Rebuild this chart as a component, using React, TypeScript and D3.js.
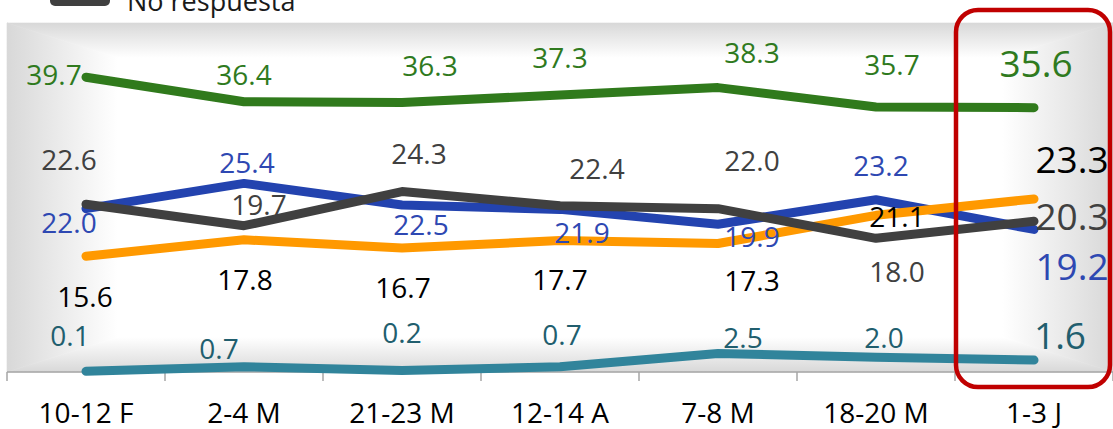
import React from 'react';
import * as d3 from 'd3';

const categories = ['10-12 F', '2-4 M', '21-23 M', '12-14 A', '7-8 M', '18-20 M', '1-3 J'];
const serieVerde = [39.7, 36.4, 36.3, 37.3, 38.3, 35.7, 35.6];
const serieAzul = [22.0, 25.4, 22.5, 21.9, 19.9, 23.2, 19.2];
const serieNaranja = [15.6, 17.8, 16.7, 17.7, 17.3, 21.1, 23.3];
const serieTurquesa = [0.1, 0.7, 0.2, 0.7, 2.5, 2.0, 1.6];
const noRespuesta = [22.6, 19.7, 24.3, 22.4, 22.0, 18.0, 20.3];
const legendLabel = 'No respuesta';

// label offsets (px) relative to each data point
const offVerde = [[-32, -2], [0, -27], [28, -37], [0, -37], [34, -35], [16, -42], [2, -44]];
const offAzul = [[-17, 14], [3, -20], [19, 20], [22, 24], [34, 13], [5, -34], [38, 37]];
const offNaranja = [[-1, 41], [1, 40], [1, 40], [0, 39], [34, 37], [21, 2], [38, -39]];
const offTurquesa = [[-16, -35], [-25, -18], [0, -38], [2, -32], [25, -16], [8, -19], [26, -24]];
const offNoResp = [[-17, -44], [15, -21], [17, -38], [37, -37], [34, -48], [21, 34], [38, -5]];

const W = 1113;
const H = 429;
const X0 = 7, X1 = 1113, Y0 = 23, Y1 = 372;
const FONT = '"Open Sans", "Noto Sans", sans-serif';

const series = [
  { key: 'verde', values: serieVerde, off: offVerde, line: '#307A1C', label: '#2F7A1E' },
  { key: 'azul', values: serieAzul, off: offAzul, line: '#2343AF', label: '#2E48B2' },
  { key: 'naranja', values: serieNaranja, off: offNaranja, line: '#FF9900', label: '#000000' },
  { key: 'turquesa', values: serieTurquesa, off: offTurquesa, line: '#31849B', label: '#215E6E' },
  { key: 'noresp', values: noRespuesta, off: offNoResp, line: '#404040', label: '#404040' },
];

export default function App() {
  const x = d3.scaleBand<string>().domain(categories).range([X0, X1]).padding(0);
  const cx = (c: string) => (x(c) as number) + x.bandwidth() / 2;
  const y = d3.scaleLinear().domain([0, 47]).range([Y1, Y0]);
  const fmt = d3.format('.1f');
  const line = d3
    .line<number>()
    .x((_, i) => cx(categories[i]))
    .y((v) => y(v));

  const mx = (X0 + X1) / 2;
  const my = (Y0 + Y1) / 2;
  const stops = (
    <>
      <stop offset="0" stopColor="#D8D8D8" />
      <stop offset="0.07" stopColor="#E6E6E6" />
      <stop offset="0.2" stopColor="#FFFFFF" />
      <stop offset="1" stopColor="#FFFFFF" />
    </>
  );
  const ticks = d3.range(categories.length + 1).map((i) => X0 + i * x.bandwidth());
  const lastIdx = categories.length - 1;

  return (
    <svg width={W} height={H} style={{ position: 'absolute', left: 0, top: 0 }} fontFamily={FONT}>
      <defs>
        <linearGradient id="gT" gradientUnits="userSpaceOnUse" x1={0} y1={Y0} x2={0} y2={my}>{stops}</linearGradient>
        <linearGradient id="gB" gradientUnits="userSpaceOnUse" x1={0} y1={Y1} x2={0} y2={my}>{stops}</linearGradient>
        <linearGradient id="gL" gradientUnits="userSpaceOnUse" x1={X0} y1={0} x2={mx} y2={0}>{stops}</linearGradient>
        <linearGradient id="gR" gradientUnits="userSpaceOnUse" x1={X1} y1={0} x2={mx} y2={0}>{stops}</linearGradient>
      </defs>
      <rect x={0} y={0} width={W} height={H} fill="#FFFFFF" />
      {/* plot area with path-style gradient */}
      <polygon points={`${X0},${Y0} ${X1},${Y0} ${mx},${my}`} fill="url(#gT)" stroke="url(#gT)" strokeWidth={0.6} />
      <polygon points={`${X0},${Y1} ${X1},${Y1} ${mx},${my}`} fill="url(#gB)" stroke="url(#gB)" strokeWidth={0.6} />
      <polygon points={`${X0},${Y0} ${mx},${my} ${X0},${Y1}`} fill="url(#gL)" stroke="url(#gL)" strokeWidth={0.6} />
      <polygon points={`${X1},${Y0} ${mx},${my} ${X1},${Y1}`} fill="url(#gR)" stroke="url(#gR)" strokeWidth={0.6} />

      {/* legend (partially cut at top) */}
      <line x1={55} x2={105} y1={1} y2={1} stroke="#404040" strokeWidth={10} strokeLinecap="round" />
      <text x={127} y={11} fontSize={27} fill="#1a1a1a">{legendLabel}</text>

      {/* axis */}
      <line x1={X0} x2={X1} y1={Y1} y2={Y1} stroke="#A6A6A6" strokeWidth={1.5} />
      {ticks.map((t, i) => (
        <line key={i} x1={t} x2={t} y1={Y1} y2={Y1 + 9} stroke="#A6A6A6" strokeWidth={1.5} />
      ))}
      {categories.map((c) => (
        <text key={c} x={cx(c)} y={423} fontSize={28} textAnchor="middle" fill="#000">{c}</text>
      ))}

      {/* lines */}
      {series.map((s) => (
        <path key={s.key} d={line(s.values) as string} fill="none" stroke={s.line} strokeWidth={9}
          strokeLinecap="round" strokeLinejoin="round" />
      ))}

      {/* data labels */}
      {series.map((s) =>
        s.values.map((v, i) => {
          const fs = i === lastIdx ? 37 : 28;
          const px = cx(categories[i]) + s.off[i][0];
          const py = y(v) + s.off[i][1];
          return (
            <text key={s.key + i} x={px} y={py + 0.36 * fs} fontSize={fs} textAnchor="middle" fill={s.label}>
              {fmt(v)}
            </text>
          );
        })
      )}

      {/* highlight box */}
      <rect x={956} y={10} width={154} height={377} rx={22} ry={22} fill="none" stroke="#C00000" strokeWidth={4.5} />
    </svg>
  );
}
